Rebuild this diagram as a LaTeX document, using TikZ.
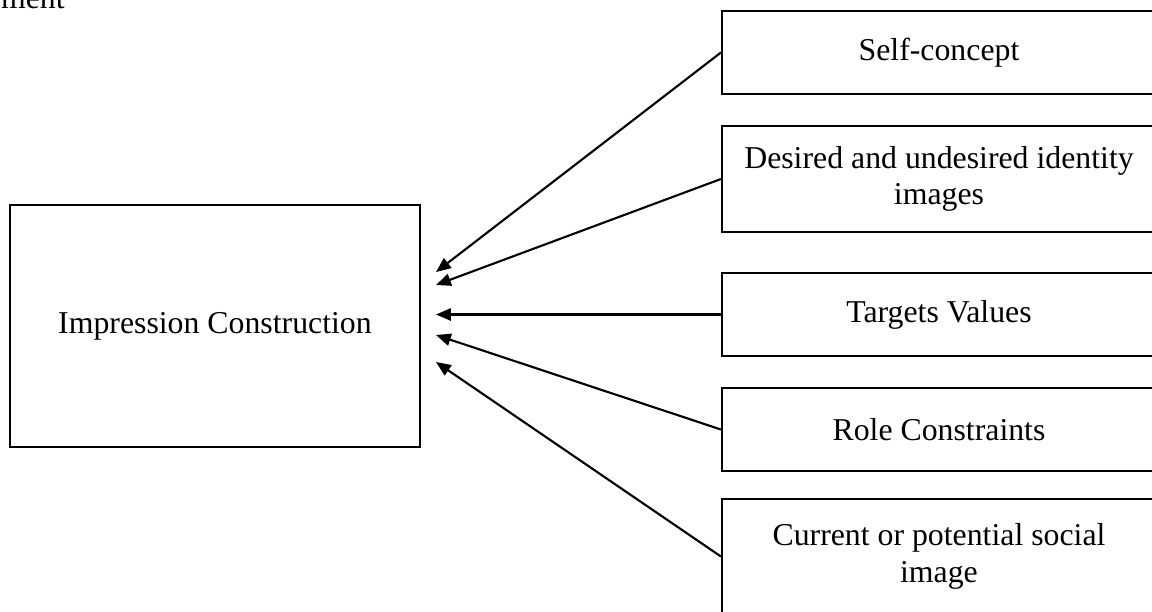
\documentclass[tikz,border=0pt]{standalone}
\usepackage{fontspec}
\setmainfont{Liberation Serif}
\usetikzlibrary{positioning,arrows.meta,calc}

\begin{document}
\begin{tikzpicture}[x=0.3774pt,y=-0.3774pt,line width=0.8pt,
    >={Triangle[length=5.6pt,width=4.6pt]}]

  \tikzset{
    box/.style={draw,align=center,font=\fontsize{12}{13.8}\selectfont,
      minimum width=163.8pt,minimum height=31.3pt,inner sep=0pt},
  }

  \useasboundingbox (0,0) rectangle (1152,611);
  \clip (0,0) rectangle (1152,611);

  \node[anchor=base west,inner sep=0pt,font=\fontsize{12}{13.8}\selectfont] (capt) at (0,8) {ment};

  \node[box,minimum width=154.7pt,minimum height=91.3pt] (imp) at (215,326) {Impression Construction};

  \node[box] (self) at (939,52.5) {Self-concept};
  \node[box,minimum height=40pt] (ident) at (939,179) {Desired and undesired identity\\images};
  \node[box] (values) at (939,314.5) {Targets Values};
  \node[box] (role) at (939,429.5) {Role Constraints};
  \node[box,minimum height=43.4pt] (social) at (939,556.5) {Current or potential social\\image};

  % arrow tips next to the left box
  \coordinate (tself)   at ($(imp.east)+(15,-54)$);
  \coordinate (tident)  at ($(imp.east)+(15,-41)$);
  \coordinate (tvalues) at (tself |- values.west);
  \coordinate (trole)   at ($(imp.east)+(15,9)$);
  \coordinate (tsocial) at ($(imp.east)+(15,36)$);

  \draw[->] (self.west) -- (tself);
  \draw[->] (ident.west) -- (tident);
  \draw[->] (values.west) -- (tvalues);
  \draw[->] (role.west) -- (trole);
  \draw[->] (social.west) -- (tsocial);
\end{tikzpicture}
\end{document}
